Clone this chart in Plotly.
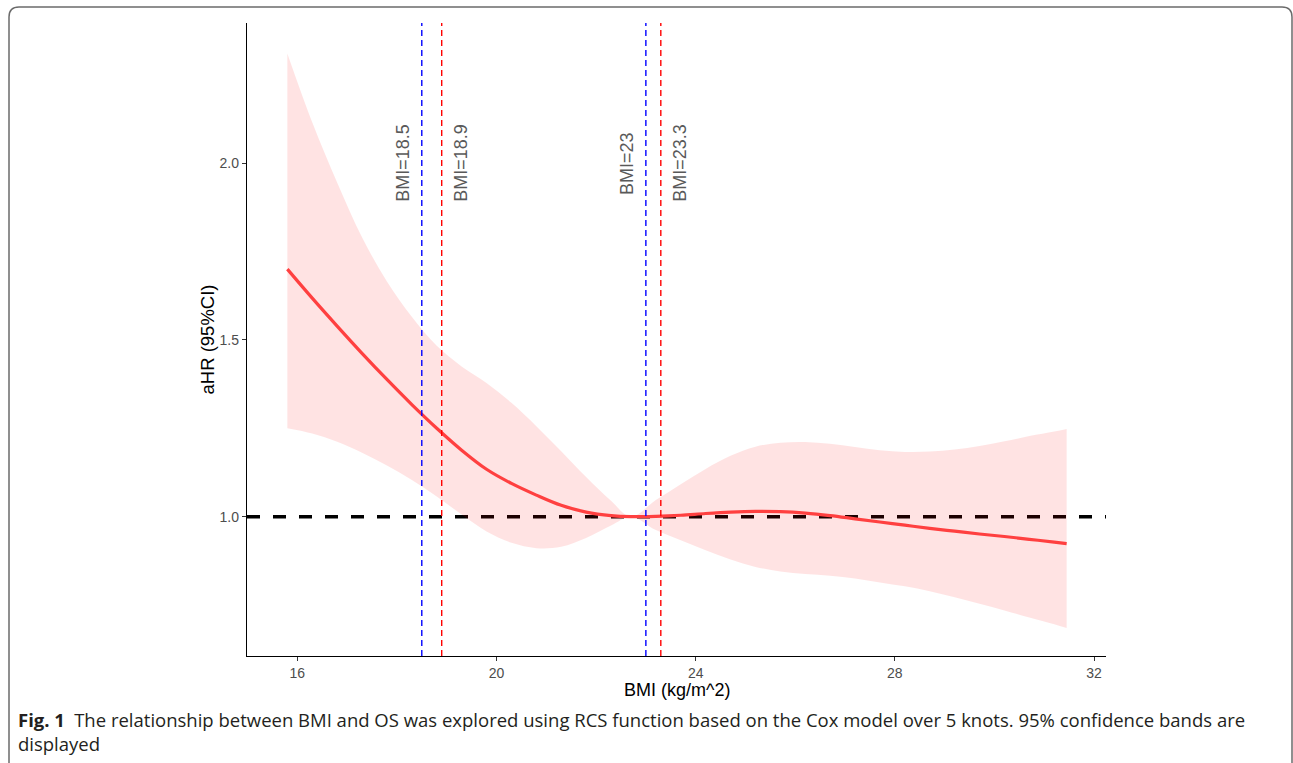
import plotly.graph_objects as go

# Restricted cubic spline fit: BMI vs adjusted hazard ratio with 95% CI
bmi = [15.8, 16.3, 16.8, 17.3, 17.8, 18.3, 18.8, 19.3, 19.8, 20.3, 20.8, 21.3,
       21.8, 22.3, 22.7, 23.2, 23.7, 24.2, 24.7, 25.2, 25.7, 26.2, 26.7, 27.2,
       27.7, 28.2, 28.7, 29.2, 29.7, 30.2, 30.7, 31.2, 31.45]
hr = [1.700, 1.618, 1.539, 1.462, 1.388, 1.317, 1.250, 1.188, 1.134, 1.094, 1.061,
      1.032, 1.013, 1.003, 1.000, 1.001, 1.004, 1.009, 1.013, 1.015, 1.014, 1.010,
      1.003, 0.994, 0.985, 0.976, 0.967, 0.959, 0.951, 0.944, 0.936, 0.928, 0.924]
hr_upper = [2.310, 2.115, 1.945, 1.790, 1.665, 1.565, 1.483, 1.425, 1.378, 1.322,
            1.256, 1.185, 1.112, 1.045, 1.000, 1.047, 1.092, 1.135, 1.172, 1.198,
            1.209, 1.211, 1.206, 1.197, 1.188, 1.183, 1.184, 1.190, 1.200, 1.213,
            1.228, 1.241, 1.248]
hr_lower = [1.250, 1.235, 1.212, 1.181, 1.145, 1.104, 1.057, 1.006, 0.958, 0.926,
            0.911, 0.915, 0.940, 0.975, 1.000, 0.962, 0.933, 0.905, 0.879, 0.858,
            0.845, 0.838, 0.833, 0.825, 0.814, 0.803, 0.789, 0.772, 0.754, 0.735,
            0.715, 0.696, 0.685]

ref_hr = 1.0
cut_blue = [18.5, 23]
cut_red = [18.9, 23.3]
label_y = 2.0
x_ticks = [16, 20, 24, 28, 32]
y_ticks = [1.0, 1.5, 2.0]

x_title = "BMI (kg/m^2)"
y_title = "aHR (95%CI)"
caption_1 = ("<b>Fig. 1</b>\u2002The relationship between BMI and OS was explored using RCS "
             "function based on the Cox model over 5 knots. 95% confidence bands are")
caption_2 = "displayed"

# ---- layout geometry (pixels) ----
W, H = 1293, 763
ML, MR, MT, MB = 247, 187, 23, 107
PW, PH = W - ML - MR, H - MT - MB


def paper(px, py):
    return (px - ML) / PW, (H - MB - py) / PH


ARIAL = "Arial, Liberation Sans, sans-serif"
SPLINE = dict(shape="spline", smoothing=1.0)

fig = go.Figure()

# confidence band
fig.add_trace(go.Scatter(x=bmi, y=hr_lower, mode="lines",
                         line=dict(width=0, **SPLINE),
                         hoverinfo="skip", showlegend=False))
fig.add_trace(go.Scatter(x=bmi, y=hr_upper, mode="lines",
                         line=dict(width=0, **SPLINE),
                         fill="tonexty", fillcolor="rgba(255,0,0,0.11)",
                         hoverinfo="skip", showlegend=False))
# fitted curve
fig.add_trace(go.Scatter(x=bmi, y=hr, mode="lines",
                         line=dict(color="#FF4040", width=3.2, **SPLINE),
                         showlegend=False))

shapes = []
# reference line at HR = 1
shapes.append(dict(type="line", xref="paper", yref="y", x0=0, x1=1, y0=ref_hr, y1=ref_hr,
                   line=dict(color="black", width=3.5, dash="13px,13px"), layer="between"))

annotations = []
for vals, color, shift in ((cut_blue, "#0000FF", -19), (cut_red, "#FF0000", 19)):
    for v in vals:
        shapes.append(dict(type="line", xref="x", yref="paper", x0=v, x1=v, y0=0, y1=1,
                           line=dict(color=color, width=1.4, dash="6px,4px"), layer="above"))
        annotations.append(dict(x=v, y=label_y, xref="x", yref="y", text=f"BMI={v:g}",
                                textangle=-90, showarrow=False, xshift=shift,
                                font=dict(family=ARIAL, size=18, color="#595959")))

# rounded panel frame
x0p, y0p = paper(9, 7)
x1p, y1p = paper(1292, 7)
_, ybot = paper(9, 800)
rx = 10 / PW
ry = 10 / PH
frame = (f"M {x0p},{ybot} L {x0p},{y0p - ry} Q {x0p},{y0p} {x0p + rx},{y0p} "
         f"L {x1p - rx},{y1p} Q {x1p},{y1p} {x1p},{y1p - ry} L {x1p},{ybot}")
shapes.append(dict(type="path", xref="paper", yref="paper", path=frame,
                   line=dict(color="#6b6b6b", width=1.5)))

# axis titles
annotations.append(dict(x=0.5, y=0, xref="paper", yref="paper", yshift=-34,
                        text=x_title, showarrow=False, yanchor="middle",
                        font=dict(family=ARIAL, size=18, color="black")))
annotations.append(dict(x=0, y=0.5, xref="paper", yref="paper", xshift=-40,
                        text=y_title, showarrow=False, textangle=-90, xanchor="center",
                        font=dict(family=ARIAL, size=18.5, color="black")))

# caption
cx, cy1 = paper(16, 719)
_, cy2 = paper(16, 743)
annotations.append(dict(x=cx, y=cy1, xref="paper", yref="paper", xanchor="left",
                        yanchor="middle", text=caption_1, showarrow=False,
                        font=dict(family="Open Sans", size=18.5, color="#231f20")))
annotations.append(dict(x=cx, y=cy2, xref="paper", yref="paper", xanchor="left",
                        yanchor="middle", text=caption_2, showarrow=False,
                        font=dict(family="Open Sans", size=18.5, color="#231f20")))

axis_common = dict(showgrid=False, zeroline=False, showline=True, linecolor="black",
                   linewidth=1.3, ticks="outside", ticklen=4, tickwidth=1.1,
                   tickcolor="#333333",
                   tickfont=dict(family=ARIAL, size=14, color="#4D4D4D"))

fig.update_layout(
    width=W, height=H,
    margin=dict(l=ML, r=MR, t=MT, b=MB, pad=0),
    paper_bgcolor="white", plot_bgcolor="white",
    showlegend=False,
    shapes=shapes, annotations=annotations,
    xaxis=dict(range=[14.99, 32.24], tickvals=x_ticks,
               ticktext=[str(t) for t in x_ticks], **axis_common),
    yaxis=dict(range=[0.606, 2.396], tickvals=y_ticks,
               ticktext=[f"{t:.1f}" for t in y_ticks], **axis_common),
)

fig.write_html("out.html")
